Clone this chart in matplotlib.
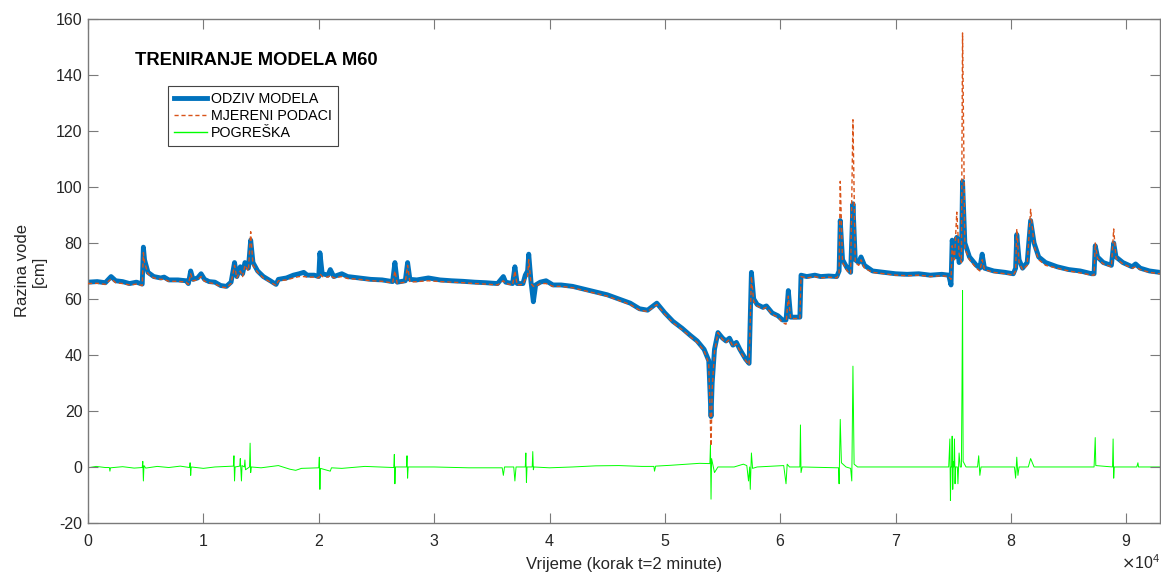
import numpy as np
import matplotlib
matplotlib.use("Agg")
import matplotlib.pyplot as plt

plt.rcParams['font.family'] = ['Liberation Sans', 'DejaVu Sans']
plt.rcParams['axes.unicode_minus'] = False

# time step index, model response, measured level (cm)
t_level = [0, 800, 1500, 2000, 2400, 3000, 3600, 4200, 4700, 4800, 4900, 5200, 5700, 6300, 6600,
           7000, 7800, 8500, 8700, 8900, 9100, 9500, 9800, 10100, 10500, 11000, 11500, 12000,
           12400, 12700, 12900, 13200, 13400, 13600, 13900, 14100, 14300, 14700, 15200, 15800,
           16300, 16500, 17200, 17800, 18300, 18700, 19000, 19600, 20000, 20100, 20300, 20800,
           21000, 21300, 22000, 22500, 23500, 24500, 25500, 26400, 26600, 26800, 27500, 27700,
           27900, 28500, 29500, 30500, 31500, 32500, 33500, 34500, 35500, 36000, 36200, 36800,
           37000, 37200, 37700, 37900, 38100, 38200, 38400, 38600, 38800, 39200, 39700, 40300,
           41000, 42000, 43000, 44000, 45000, 46000, 47000, 47800, 48500, 49300, 50000, 50700,
           51500, 52200, 52800, 53400, 53800, 54000, 54100, 54300, 54600, 55000, 55300, 55600,
           55900, 56200, 56500, 57000, 57300, 57500, 57700, 58000, 58500, 58800, 59300, 59800,
           60200, 60500, 60700, 60900, 61500, 61700, 61800, 62300, 63000, 63500, 64200, 64900,
           65100, 65200, 65400, 65800, 66100, 66300, 66500, 66800, 67000, 67300, 68000, 69000,
           70000, 71000, 72000, 73000, 74000, 74600, 74800, 74900, 75100, 75300, 75500, 75700,
           75800, 76000, 76400, 77000, 77300, 77500, 77700, 78500, 79500, 80200, 80400, 80500,
           80700, 81000, 81400, 81700, 82000, 82400, 83000, 84000, 85000, 86000, 87000, 87200,
           87300, 87500, 88000, 88700, 88900, 89100, 89700, 90500, 90800, 91200, 92000, 92900]

odziv = [66, 66.2, 65.8, 68, 66.5, 66.2, 65.5, 66, 65.3, 78.5, 74, 69.5, 68, 67.5, 67.8,
         66.8, 66.8, 66.5, 65.5, 70, 67, 67.5, 69, 67, 66.2, 66, 64.8, 64.5,
         66, 73, 68, 71.5, 69, 73, 71, 81, 73, 70, 68, 66.5,
         65.2, 67, 67.5, 68.5, 69, 69.5, 68.5, 68.5, 68, 76.5, 69, 68.5,
         70.5, 68, 69, 68, 67.5, 67, 66.8, 66.2, 73, 66, 66.5, 73,
         67, 66.8, 67.5, 66.8, 66.5, 66.3, 66, 65.8, 65.5, 68, 66, 65.5,
         71.5, 65.5, 65.5, 68.5, 70, 76, 66, 59, 65, 66, 66.5, 65,
         65, 64.5, 63.5, 62.5, 61.5, 60, 58.5, 56.5, 56, 58.5, 55, 52,
         49.5, 47, 45, 42, 38, 18, 30, 42, 48, 46, 45, 46,
         43.5, 44.5, 42, 38.5, 37, 69.5, 60, 58, 57, 57.5, 55, 54,
         52.5, 52.5, 63, 53.5, 53.5, 53.5, 68.5, 68, 68.5, 68, 68.2, 68,
         70, 88, 74, 71, 69.5, 94, 74, 73, 75, 72, 70, 69.5,
         69, 68.8, 69, 68.5, 68.8, 68.5, 65, 81, 75, 82, 73, 74,
         102, 80, 75, 72, 71, 76, 71, 70, 69.5, 69, 71, 83,
         74, 71, 73, 88, 80, 75, 73, 71.5, 70.5, 70, 69, 69,
         79, 75, 73, 72, 80, 75, 73, 71.5, 72.5, 71, 70, 69.5]

mjereno = [65.5, 65.6, 65.2, 67.2, 65.8, 65.5, 65, 65.3, 64.8, 76.5, 73, 69, 67.5, 67, 67,
           66.3, 66.3, 66, 65.2, 69, 66.5, 66.8, 68, 66.3, 65.8, 65.4, 64.3, 64,
           65.5, 72, 67.5, 70, 68, 72, 70, 84, 72, 69.5, 67.5, 66,
           64.8, 66.5, 66.8, 67.5, 68, 68, 67.8, 67.8, 67.5, 69, 68, 67.8,
           68.5, 67.5, 68, 67.3, 67, 66.5, 66.3, 65.7, 70, 65.5, 66, 72,
           66, 66.2, 66.5, 66.2, 66, 65.8, 65.5, 65.3, 65, 66.5, 65.5, 65,
           70, 65, 65.2, 67, 68, 74, 65.5, 64.5, 64.5, 65.5, 65.5, 64.5,
           64.5, 64, 63, 62, 61, 59.5, 58, 56, 55.5, 58, 54.5, 51.5,
           49, 46.5, 44.5, 41.5, 37, 7.5, 28, 41, 48, 45.5, 44.5, 45.5,
           43, 44, 41.5, 38, 36.5, 68, 59, 57.5, 56.5, 57, 54.5, 53.5,
           51.5, 51, 61, 53, 53, 53, 68, 67.5, 68, 67.5, 67.8, 67.5,
           69, 102, 73, 70, 69, 124, 73, 72, 74, 71, 69.5, 69,
           68.5, 68.3, 68.5, 68, 68.3, 68, 67, 79, 74, 91, 76, 73,
           155, 78, 74, 71, 70, 74, 70.5, 69.5, 69, 68.5, 70, 85,
           73, 70.5, 72, 92, 79, 74, 72, 71, 70, 69.3, 68.5, 68.5,
           80, 74.5, 72.5, 71.5, 85, 74.5, 72.5, 71, 71.5, 70.5, 69.5, 69]

# error series as (time step, error) pairs
err_points = [
    (0, -0.3), (700, 0.2), (1500, -0.2), (1850, -0.2), (1900, -1.5), (1950, -0.3),
    (3000, 0.1), (4000, -0.4), (4700, -0.2), (4750, 2), (4800, -5), (4850, 0.5),
    (5000, -0.4), (6000, 0.2), (7000, -0.2), (8000, 0.3), (8800, -0.2), (8850, 1.5),
    (8900, -3), (8950, 0), (10000, -0.5), (11000, 0), (12600, 0.3), (12650, 4),
    (12700, -5), (12750, 0), (13150, 0.3), (13200, 3), (13300, -5), (13350, 0.5),
    (13550, 0), (13600, 2.5), (13650, -1), (14000, 0), (14050, 8.5), (14100, -2),
    (14150, 0), (15000, -0.3), (16500, 0.5), (17500, -0.8), (18000, -1.2), (18500, -0.5),
    (20000, -0.3), (20050, 3.5), (20100, -8), (20150, -0.5), (21000, -1.5), (21100, -0.3),
    (22000, -0.5), (24000, 0.2), (26500, -0.2), (26550, 4.5), (26600, -6), (26650, 0),
    (27600, 0), (27650, 4), (27700, -4), (27750, 0), (30000, 0), (33000, -0.3),
    (35900, -0.3), (36000, -3), (36100, 0), (36900, 0), (37000, -5), (37100, 0),
    (37900, 0), (37950, 5), (38000, -5.5), (38050, 0), (38500, 0), (38550, 5.5),
    (38600, -1), (38650, 0), (40000, -0.3), (42000, 0), (44000, 0.4), (46000, 0.5),
    (48000, 0.2), (49050, 0.2), (49100, -1.5), (49200, 0.3), (50500, 0.6), (52000, 1),
    (53000, 1.3), (53900, 1.2), (53950, 8), (54000, -11.5), (54050, 3), (54300, -2),
    (54600, 0), (56000, 0), (56800, 1), (57100, 0.5), (57250, -5), (57350, 0),
    (57400, -8), (57500, 5), (57600, -0.5), (58000, 0), (60300, 0.5), (60500, -6),
    (60600, 1), (60800, 0), (61700, 0), (61750, 15), (61800, -2), (61900, 0),
    (65050, -0.3), (65100, -6), (65200, 17), (65300, 1.5), (65700, 0), (66100, -0.5),
    (66200, -5), (66300, 36), (66400, 1), (66700, 0), (70000, 0), (74600, 0),
    (74700, 10), (74750, -12), (74800, 0), (74850, 0), (74900, 11), (74950, -8),
    (75000, 2), (75050, 0), (75100, 10), (75150, -6), (75200, 0), (75350, 0),
    (75400, -6), (75500, 5), (75600, 0), (75700, 0), (75750, 28), (75800, 63),
    (75850, 2), (76100, 0), (77100, 0), (77200, 4), (77300, -3), (77400, 0),
    (80300, 0), (80400, -4), (80500, 3.5), (80600, -3), (80700, 0), (81500, 0),
    (81700, 3), (82000, 0), (87200, 0), (87300, 10.5), (87350, 0.5), (88800, 0),
    (88850, 10), (88900, -4), (88950, 0), (90900, 0), (91000, 1.5), (91050, 0),
    (92900, 0),
]
t_err = [p[0] for p in err_points]
pogreska = [p[1] for p in err_points]

fig = plt.figure(figsize=(11.61, 5.74), dpi=100)
ax = fig.add_axes([0.0758, 0.0889, 0.9232, 0.8781])

ax.plot(t_level, odziv, color='#0072BD', lw=3.5, label='ODZIV MODELA', zorder=2)
ax.plot(t_level, mjereno, color='#D95319', lw=1.0, ls=(0, (3, 2)), label='MJERENI PODACI', zorder=3)
ax.plot(t_err, pogreska, color='#00FF00', lw=0.7, label='POGREŠKA', zorder=1)

ax.set_xlim(0, 92900)
ax.set_ylim(-20, 160)
ax.set_yticks(np.arange(-20, 161, 20))
ax.set_xticks(np.arange(0, 90001, 10000))
ax.ticklabel_format(axis='x', style='sci', scilimits=(4, 4), useMathText=True)

txt_col = '#262626'
for s in ax.spines.values():
    s.set_color('#7a7a7a')
    s.set_linewidth(1.0)
ax.tick_params(direction='in', length=7, width=0.8, color='#7a7a7a',
               top=True, right=True, labelsize=11.5, labelcolor=txt_col)
ax.tick_params(axis='x', pad=7)
ax.tick_params(axis='y', pad=4)
ax.xaxis.get_offset_text().set_fontsize(11.5)
ax.xaxis.get_offset_text().set_color(txt_col)

ax.set_xlabel('Vrijeme (korak t=2 minute)', fontsize=12, color=txt_col, labelpad=6)
ax.set_ylabel('Razina vode\n[cm]', fontsize=12, color=txt_col, labelpad=6)

ax.text(0.044, 0.918, 'TRENIRANJE MODELA M60', transform=ax.transAxes,
        fontsize=13.2, fontweight='bold', color='black', va='center', ha='left')

leg = ax.legend(loc='upper left', bbox_to_anchor=(0.075, 0.866), fontsize=10.3,
                frameon=True, fancybox=False, framealpha=1, edgecolor='#444444',
                handlelength=2.3, handletextpad=0.3, borderpad=0.4, labelspacing=0.2,
                borderaxespad=0)
leg.get_frame().set_linewidth(0.8)
leg.get_lines()[2].set_linewidth(1.0)

plt.savefig('out.png', dpi=100)
